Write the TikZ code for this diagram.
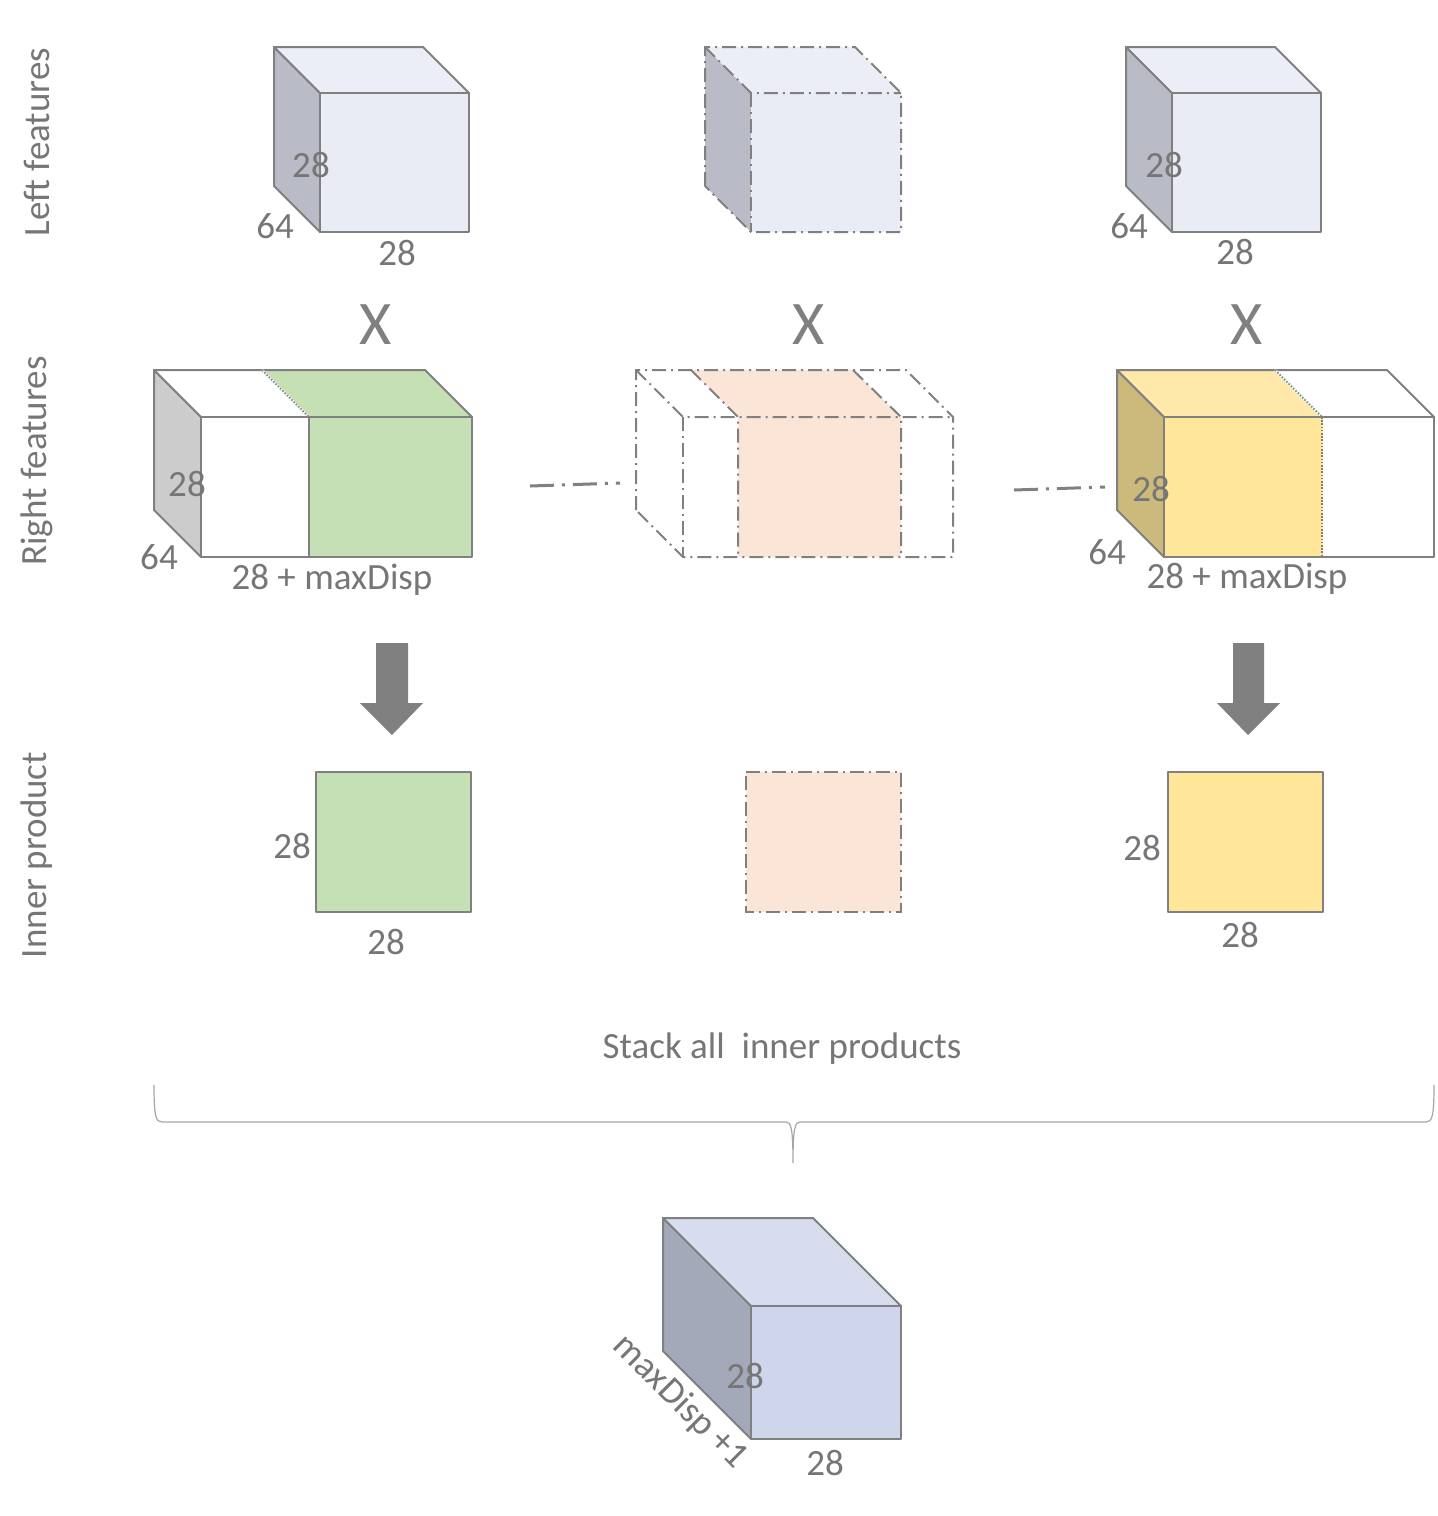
\documentclass[tikz,border=0pt]{standalone}
\usepackage{fontspec}
\setmainfont{Carlito}
\definecolor{edge}{HTML}{808080}
\definecolor{txt}{HTML}{767676}
\definecolor{blfront}{HTML}{E9ECF5}
\definecolor{bltop}{HTML}{EBEEF6}
\definecolor{blside}{HTML}{B9BCC6}
\definecolor{grside}{HTML}{CCCCCC}
\definecolor{green1}{HTML}{C5E0B4}
\definecolor{yfront}{HTML}{FFE699}
\definecolor{ytop}{HTML}{FFE9AA}
\definecolor{yside}{HTML}{CCBA7C}
\definecolor{pink1}{HTML}{FBE5D6}
\definecolor{bfront}{HTML}{CFD5EA}
\definecolor{btop}{HTML}{D7DCEE}
\definecolor{bside}{HTML}{A4A9B9}
\definecolor{arrowc}{HTML}{808080}
\tikzset{
  face/.style={draw=edge,line width=1pt,line join=round},
  ddface/.style={draw=edge,line width=1pt,dash pattern=on 7pt off 2.5pt on 1pt off 2.5pt},
  dotline/.style={draw=edge,line width=0.8pt,dash pattern=on 0.8pt off 0.8pt},
  gapline/.style={draw=edge,line width=1.5pt,dash pattern=on 12pt off 4pt on 1.5pt off 4pt},
  dim/.style={text=txt,font=\fontsize{18.5}{22}\selectfont,inner sep=0pt},
  rowlabel/.style={text=txt,font=\fontsize{18.5}{22}\selectfont,rotate=90,inner sep=0pt},
  bigx/.style={text=edge,font=\fontsize{31}{36}\selectfont,inner sep=0pt},
  blockarrow/.style={fill=arrowc,draw=none},
}
\begin{document}
\begin{tikzpicture}[x=0.5pt,y=-0.5pt]
\useasboundingbox (0,0) rectangle (1437,1516);
\fill[white] (0,0) rectangle (1437,1516);

% ---------- row labels ----------
\node[rowlabel] (lblL) at (37,142) {Left features};
\node[rowlabel] (lblR) at (37,461) {Right features};
\node[rowlabel] (lblI) at (37,855) {Inner product};

% ---------- Left features: cube 1 ----------
\path[face,fill=blside] (274,47) -- (320,93) -- (320,232) -- (274,186) -- cycle;
\path[face,fill=bltop] (274,47) -- (423,47) -- (469,93) -- (320,93) -- cycle;
\path[face,fill=blfront] (320,93) rectangle (469,232);
\node[dim] (a28) at (311,165) {28};
\node[dim] (a64) at (275,226) {64};
\node[dim] (a28b) at (397,253) {28};

% ---------- Left features: cube 2 (dash-dot) ----------
\fill[blside] (705,47) -- (751,93) -- (751,232) -- (705,186) -- cycle;
\fill[bltop] (705,47) -- (855,47) -- (901,93) -- (751,93) -- cycle;
\fill[blfront] (751,93) rectangle (901,232);
\path[ddface] (705,186) -- (705,47) -- (855,47) -- (901,93) -- (901,232) -- (751,232) -- (705,186);
\path[ddface] (705,47) -- (751,93) -- (901,93);
\path[ddface] (751,93) -- (751,232);

% ---------- Left features: cube 3 ----------
\path[face,fill=blside] (1126,47) -- (1172,93) -- (1172,232) -- (1126,186) -- cycle;
\path[face,fill=bltop] (1126,47) -- (1275,47) -- (1321,93) -- (1172,93) -- cycle;
\path[face,fill=blfront] (1172,93) rectangle (1321,232);
\node[dim] (c28) at (1164,165) {28};
\node[dim] (c64) at (1129,226) {64};
\node[dim] (c28b) at (1235,252) {28};

% ---------- X signs ----------
\node[bigx] (x1) at (376,325) {X};
\node[bigx] (x2) at (809,325) {X};
\node[bigx] (x3) at (1247,325) {X};

% ---------- Right features: left ----------
\path[face,fill=grside] (154,370) -- (201,417) -- (201,557) -- (154,510) -- cycle;
\path[face,fill=white] (154,370) -- (262,370) -- (309,417) -- (201,417) -- cycle;
\path[face,fill=green1] (262,370) -- (425,370) -- (472,417) -- (309,417) -- cycle;
\path[draw=white,line width=1.2pt] (262,370) -- (309,417);
\path[dotline] (262,370) -- (309,417);
\path[face,fill=white] (201,417) rectangle (309,557);
\path[face,fill=green1] (309,417) rectangle (472,557);
\node[dim] (d28) at (187,484) {28};
\node[dim] (d64) at (159,557) {64};
\node[dim] (dmax) at (332,580) {28 + maxDisp};

% ---------- Right features: middle (dash-dot) ----------
\fill[pink1] (691,370) -- (853,370) -- (901,417) -- (738,417) -- cycle;
\fill[pink1] (738,417) rectangle (901,557);
\path[ddface] (636,510) -- (636,370) -- (906,370) -- (953,417) -- (953,557) -- (683,557) -- (636,510);
\path[ddface] (636,370) -- (683,417) -- (953,417);
\path[ddface] (683,417) -- (683,557);
\path[ddface] (691,370) -- (738,417) -- (738,557);
\path[ddface] (853,370) -- (901,417) -- (901,557);

% ---------- Right features: right ----------
\path[face,fill=yside] (1117,370) -- (1164,417) -- (1164,557) -- (1117,510) -- cycle;
\path[face,fill=white] (1275,370) -- (1387,370) -- (1434,417) -- (1322,417) -- cycle;
\path[face,fill=ytop] (1117,370) -- (1275,370) -- (1322,417) -- (1164,417) -- cycle;
\path[draw=white,line width=1.2pt] (1275,370) -- (1322,417);
\path[dotline] (1275,370) -- (1322,417);
\path[face,fill=white] (1322,417) rectangle (1434,557);
\path[face,fill=yfront] (1164,417) rectangle (1322,557);
\path[draw=yfront,line width=1.2pt] (1322,419) -- (1322,555);
\path[dotline] (1322,417) -- (1322,557);
\node[dim] (f28) at (1151,489) {28};
\node[dim] (f64) at (1107,552) {64};
\node[dim] (fmax) at (1247,579) {28 + maxDisp};

% ---------- gap lines between right features ----------
\coordinate (g1a) at (530,486);
\coordinate (g1b) at (620,483);
\coordinate (g2a) at (1014,490);
\coordinate (g2b) at (1105,487);
\path[gapline] (g1a) -- (g1b);
\path[gapline] (g2a) -- (g2b);

% ---------- block arrows ----------
\path[blockarrow] (376,643) -- (408,643) -- (408,703) -- (423,703) -- (392,735) -- (360,703) -- (376,703) -- cycle;
\path[blockarrow] (1233,643) -- (1264,643) -- (1264,703) -- (1280,703) -- (1248,735) -- (1217,703) -- (1233,703) -- cycle;

% ---------- inner products ----------
\path[face,fill=green1] (316,772) rectangle (471,912);
\fill[pink1] (746,772) rectangle (901,912);
\path[ddface] (746,772) -- (901,772) -- (901,912) -- (746,912) -- cycle;
\path[face,fill=yfront] (1168,772) rectangle (1323,912);
\node[dim] (g28) at (292,846) {28};
\node[dim] (g28b) at (386,942) {28};
\node[dim] (y28) at (1142,848) {28};
\node[dim] (y28b) at (1240,935) {28};

% ---------- stack text and brace ----------
\node[dim] (stack) at (782,1049) {Stack all\ \ inner products};
\path[draw=edge!70,line width=0.6pt] (154,1085) .. controls (154,1117) and (156,1122) .. (162,1122)
  -- (786,1122) .. controls (791,1122) and (793,1128) .. (793,1163)
  .. controls (793,1128) and (795,1122) .. (800,1122)
  -- (1426,1122) .. controls (1432,1122) and (1434,1117) .. (1434,1085);

% ---------- result cube ----------
\path[face,fill=bside] (663,1218) -- (751,1306) -- (751,1439) -- (663,1351) -- cycle;
\path[face,fill=btop] (663,1218) -- (813,1218) -- (901,1306) -- (751,1306) -- cycle;
\path[face,fill=bfront] (751,1306) rectangle (901,1439);
\node[dim] (r28) at (745,1376) {28};
\node[dim] (r28b) at (825,1463) {28};
\node[dim,rotate=-45] (rmax) at (680,1402) {maxDisp +1};
\end{tikzpicture}
\end{document}
